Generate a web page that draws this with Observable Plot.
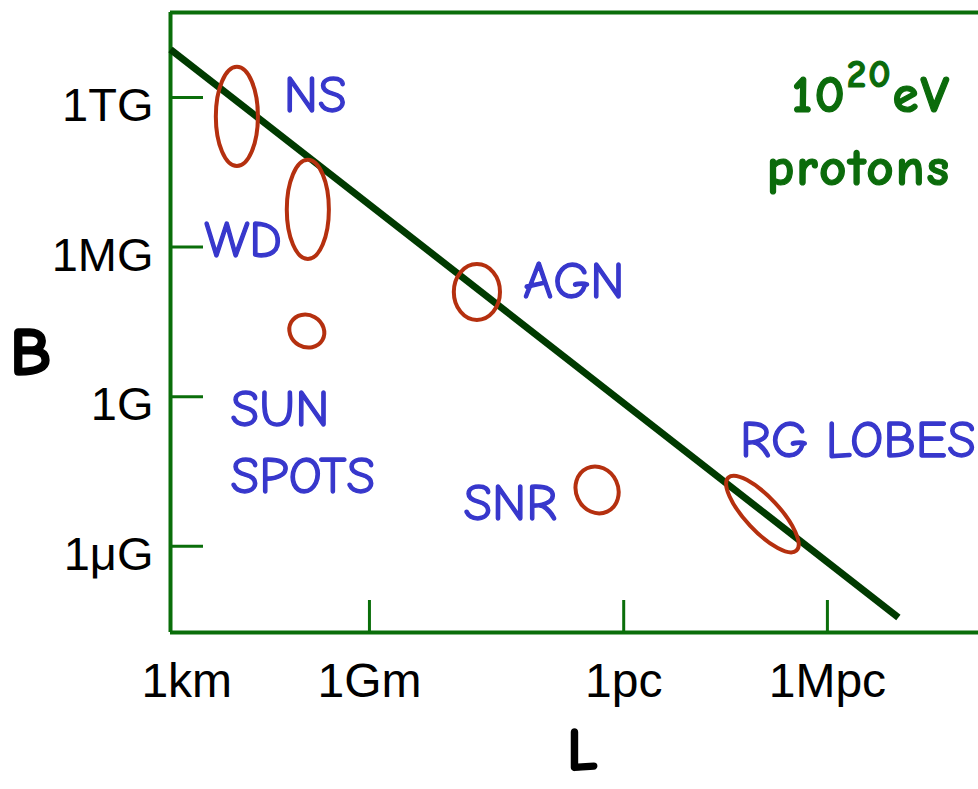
<!DOCTYPE html>
<html>
<head>
<meta charset="utf-8">
<script src="https://cdn.jsdelivr.net/npm/d3@7"></script>
<script src="https://cdn.jsdelivr.net/npm/@observablehq/plot@0.6"></script>
<style>
  html, body { margin: 0; padding: 0; background: #fff; }
  #chart svg { display: block; }
</style>
</head>
<body>
<div id="chart"></div>
<script>
// Hillas plot: size L (m) vs magnetic field B (gauss), both log scales.
const PC = 3.0857e16;   // metres per parsec

// axis ticks
const xTickValues = [1e9, PC, 1e6 * PC];
const xTickLabels = ["1Gm", "1pc", "1Mpc"];
const xFirstValue = 1e3;
const xFirstLabel = "1km";
const yTickValues = [1e12, 1e6, 1, 1e-6];
const yTickLabels = ["1TG", "1MG", "1G", "1\u03BCG"];

// confinement line for 10^20 eV protons (log10 L, log10 B at its two ends)
const lineLogL = [3.14, 24.58];
const lineLogB = [13.93, -8.86];

// source regions: centre (log10 L, log10 B), half-extent in decades, tilt in degrees
const sourceNames = ["NS", "WD", "SUN SPOTS", "AGN", "SNR", "RG LOBES"];
const sourceLogL  = [5.11, 7.20, 7.17, 12.18, 15.72, 20.59];
const sourceLogB  = [11.22, 7.49, 2.61, 4.18, -3.76, -4.73];
const sourceSpanL = [0.62, 0.62, 0.53, 0.68, 0.62, 1.47];
const sourceSpanB = [1.99, 1.99, 0.64, 1.12, 0.96, 0.68];
const sourceTilt  = [0, 0, 30, 0, -25, 47];

// label anchors for the source names (log10 L, log10 B of the text's cap top)
const labelText = ["NS", "WD", "AGN", "SNR", "RG LOBES"];
const labelLogL = [7.40, 5.28, 15.02, 13.15, 23.39];
const labelLogB = [12.88, 7.07, 5.42, -3.48, -0.92];
const sunLabel = "SUN\nSPOTS";
const sunLogL = 4.91;
const sunLogB = 0.73;

const W = 978, H = 789;
const M = {top: 12, right: 0, bottom: 157, left: 170};
const frameW = W - M.left - M.right, frameH = H - M.top - M.bottom;
const xDomain = [10 ** 3.14, 10 ** 26.94];
const yDomain = [10 ** -9.46, 10 ** 15.41];

const GREEN = "#0a6e0a", LINE = "#003a00", RED = "#b5300f", BLUE = "#3737cc";
const HAND = "'Comic Sans MS', 'Comic Neue', 'Open Sans', sans-serif";
const ARIAL = "'Liberation Sans', Arial, sans-serif";

const sources = sourceNames.map((name, i) => ({
  name, logL: sourceLogL[i], logB: sourceLogB[i],
  spanL: sourceSpanL[i], spanB: sourceSpanB[i], tilt: sourceTilt[i]
}));
const labels = labelText.map((t, i) => ({t, L: 10 ** labelLogL[i], B: 10 ** labelLogB[i]}));
const hillas = lineLogL.map((l, i) => ({L: 10 ** l, B: 10 ** lineLogB[i]}));
const xTicks = xTickValues.map((v, i) => ({v, label: xTickLabels[i]}));
const yTicks = yTickValues.map((v, i) => ({v, label: yTickLabels[i]}));

// ellipses drawn through the scales
function sourceEllipses(index, scales) {
  const g = d3.create("svg:g")
    .attr("fill", "none").attr("stroke", RED).attr("stroke-width", 4);
  for (const s of sources) {
    const cx = scales.x(10 ** s.logL), cy = scales.y(10 ** s.logB);
    const rx = scales.x(10 ** (s.logL + s.spanL)) - cx;
    const ry = cy - scales.y(10 ** (s.logB + s.spanB));
    g.append("ellipse")
      .attr("cx", cx).attr("cy", cy).attr("rx", rx).attr("ry", ry)
      .attr("transform", `rotate(${s.tilt} ${cx} ${cy})`);
  }
  return g.node();
}

// "10^20 eV protons" annotation in the top-right corner
function energyNote(index, scales, values, dims) {
  const right = dims.width - dims.marginRight - 27;
  const g = d3.create("svg:g")
    .attr("fill", "#0b6b0b").attr("stroke", "#0b6b0b").attr("stroke-width", 1.2)
    .attr("font-family", HAND).attr("font-weight", "bold")
    .attr("text-anchor", "end").attr("letter-spacing", 2);
  const t1 = g.append("text").attr("x", right).attr("y", dims.marginTop + 100).attr("font-size", 53);
  t1.append("tspan").text("10");
  t1.append("tspan").attr("dy", -25).attr("font-size", 39).text("20");
  t1.append("tspan").attr("dy", 25).text("eV");
  g.append("text").attr("x", right).attr("y", dims.marginTop + 173).attr("font-size", 53).text("protons");
  return g.node();
}

const chart = Plot.plot({
  width: W, height: H,
  marginTop: M.top, marginRight: M.right, marginBottom: M.bottom, marginLeft: M.left,
  x: {type: "log", domain: xDomain, axis: null},
  y: {type: "log", domain: yDomain, axis: null},
  marks: [
    // frame: left, bottom, top
    Plot.ruleX([xDomain[0]], {stroke: GREEN, strokeWidth: 4}),
    Plot.ruleY([yDomain[0], yDomain[1]], {stroke: GREEN, strokeWidth: 4}),
    // inward ticks
    Plot.ruleX(xTicks, {x: "v", insetTop: frameH - 32, stroke: GREEN, strokeWidth: 3}),
    Plot.ruleY(yTicks, {y: "v", insetRight: frameW - 33, stroke: GREEN, strokeWidth: 3}),
    // tick labels
    Plot.text(yTicks, {y: "v", text: "label", frameAnchor: "left", textAnchor: "end",
      lineAnchor: "middle", dx: -17, dy: 8.5, fontSize: 47, fontFamily: ARIAL, fill: "#000"}),
    Plot.text(xTicks, {x: "v", text: "label", frameAnchor: "bottom", lineAnchor: "top",
      dy: 30, fontSize: 48, fontFamily: ARIAL, fill: "#000"}),
    Plot.text([xFirstLabel], {x: () => xFirstValue, text: d => d, frameAnchor: "bottom",
      lineAnchor: "top", dx: 21, dy: 30, fontSize: 48, fontFamily: ARIAL, fill: "#000"}),
    // axis titles
    Plot.text(["B"], {text: d => d, frameAnchor: "left", textAnchor: "middle", lineAnchor: "middle",
      dx: -140, dy: 31, fontSize: 68, fontWeight: "bold", fontFamily: HAND, fill: "#000",
      stroke: "#000", strokeWidth: 1.5}),
    Plot.text(["L"], {text: d => d, frameAnchor: "bottom", textAnchor: "middle", lineAnchor: "middle",
      dx: 8, dy: 118, fontSize: 60, fontWeight: "bold", fontFamily: HAND, fill: "#000",
      stroke: "#000", strokeWidth: 1.5}),
    // Hillas line
    Plot.line(hillas, {x: "L", y: "B", stroke: LINE, strokeWidth: 7, strokeLinecap: "butt"}),
    // source regions
    sourceEllipses,
    // source names
    Plot.text(labels, {x: "L", y: "B", text: "t", textAnchor: "middle", lineAnchor: "top",
      fontSize: 52, fontFamily: HAND, fill: BLUE, stroke: BLUE, strokeWidth: 1.3}),
    Plot.text([sunLabel], {x: () => 10 ** sunLogL, y: () => 10 ** sunLogB, text: d => d,
      textAnchor: "start", lineAnchor: "top", lineHeight: 1.29,
      fontSize: 52, fontFamily: HAND, fill: BLUE, stroke: BLUE, strokeWidth: 1.3}),
    energyNote
  ]
});

document.getElementById("chart").appendChild(chart);
</script>
</body>
</html>
